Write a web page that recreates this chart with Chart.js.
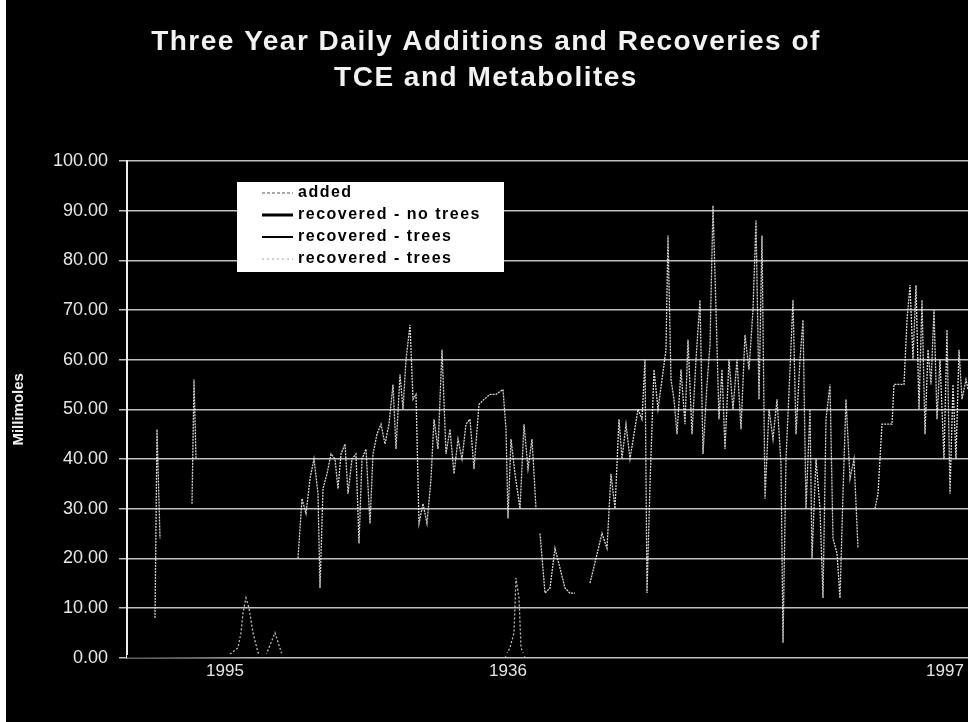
<!DOCTYPE html>
<html>
<head>
<meta charset="utf-8">
<title>Three Year Daily Additions and Recoveries of TCE and Metabolites</title>
<script src="https://cdn.jsdelivr.net/npm/chart.js@4.4.1/dist/chart.umd.min.js"></script>
<style>
  html, body { margin: 0; padding: 0; background: #000; }
  #wrap { width: 968px; height: 722px; }
</style>
</head>
<body>
<div id="wrap"><canvas id="tceChart" width="968" height="722"></canvas></div>
<script>
// tce chart - daily additions vs recoveries, 3 years

// ---- data ----
const seriesLabels = ['added', 'recovered - no trees', 'recovered - trees', 'recovered - trees'];

const yearTickDays = [98, 381, 818];
const yearTickLabels = ['1995', '1936', '1997'];

// added (null = break between pulses)
const addedDays = [
  28, 30, 33, 34,
  65, 67, 69, 70,
  171, 175, 179, 183, 187, 191, 193, 196, 200, 204, 208, 211, 214, 218, 221, 225, 229, 232, 235, 239,
  243, 246, 250, 254, 258, 262, 266, 269, 273, 276, 279, 283, 286, 289, 292, 296, 300, 304, 307, 311,
  315, 319, 323, 327, 331, 335, 339, 343, 347, 352, 357, 363, 369, 376, 379, 381, 384, 388, 393, 397,
  401, 405, 409, 410,
  413, 418, 423, 428, 433, 438, 443, 448, 449,
  463, 469, 475, 480, 484, 488, 492, 495, 499, 503, 507, 511, 515, 518, 520, 523, 527, 531, 535, 539,
  541, 544, 547, 550, 554, 558, 561, 565, 569, 573, 576, 580, 583, 586, 589, 592, 595, 598, 602, 606,
  610, 614, 618, 622, 626, 629, 632, 635, 638, 642, 646, 650, 654, 656, 659, 663, 666, 669, 673, 676,
  679, 683, 685, 689, 693, 696, 699, 703, 706, 710, 713, 716, 719, 723, 727, 731, 732,
  748, 751, 755, 765, 767, 777, 780, 783, 786, 789, 792, 795, 798, 801, 804, 807, 810, 813, 817, 820,
  823, 826, 829, 832, 835, 839, 841
];
const addedValues = [
  8, 46, 24, null,
  31, 56, 40, null,
  20, 32, 29, 36, 40, 33, 14, 34, 37, 41, 40, 34, 41, 43, 33, 40, 41, 23, 40, 42,
  27, 41, 45, 47, 43, 47, 55, 42, 57, 50, 60, 67, 52, 53, 27, 31, 27, 36, 48, 42,
  62, 41, 46, 37, 44, 40, 47, 48, 38, 51, 52, 53, 53, 54, 46, 28, 44, 37, 30, 47,
  38, 44, 30, null,
  25, 13, 14, 22, 18, 14, 13, 13, null,
  15, 20, 25, 22, 37, 30, 48, 40, 47, 40, 45, 50, 48, 60, 13, 35, 58, 50, 56, 62,
  85, 56, 52, 45, 58, 47, 64, 45, 60, 72, 41, 55, 63, 91, 70, 48, 58, 42, 60, 50,
  60, 46, 65, 58, 70, 88, 52, 85, 32, 50, 44, 52, 39, 3, 40, 58, 72, 45, 60, 68,
  30, 50, 20, 40, 30, 12, 48, 55, 24, 21, 12, 33, 52, 36, 40, 22, null,
  30, 33, 47, 47, 55, 55, 68, 75, 60, 75, 50, 72, 45, 62, 55, 70, 48, 60, 40, 66,
  33, 55, 40, 62, 52, 56, 54
];

// recovered - no trees (black, sits on the baseline)
const noTreesDays = [0, 120, 240, 380, 520, 660, 841];
const noTreesValues = [0.2, 0.4, 0.8, 0.6, 0.9, 0.7, 0.5];

// recovered - trees (black)
const treesDays = [0, 140, 300, 420, 560, 700, 841];
const treesValues = [0.1, 0.3, 0.5, 0.4, 0.6, 0.5, 0.3];

// recovered - trees (light dotted, the two small humps)
const treesLightDays = [0, 98, 105, 111, 114, 116, 119, 122, 126, 131, 138, 148, 156, 200, 378, 383, 387, 389, 392, 394, 398, 520, 841];
const treesLightValues = [0, 0, 1, 2, 5, 9, 12, 10, 5, 1, 0, 5, 0, 0, 0, 2, 5, 16, 12, 2, 0, 0, 0];

// ---- helpers ----
function toPoints(xs, ys) {
  return xs.map((x, i) => ({ x: x, y: ys[i] }));
}

// black page, white scan strip on the left edge, and the two-line title
const backdrop = {
  id: 'backdrop',
  beforeDraw(chart) {
    const ctx = chart.ctx;
    ctx.save();
    ctx.fillStyle = '#000';
    ctx.fillRect(0, 0, chart.width, chart.height);
    ctx.fillStyle = '#fff';
    ctx.fillRect(0, 0, 6, chart.height);
    ctx.restore();
  },
  afterDraw(chart) {
    const ctx = chart.ctx;
    ctx.save();
    ctx.fillStyle = '#f2f2f2';
    ctx.font = 'bold 28px Arial, "Liberation Sans", sans-serif';
    ctx.letterSpacing = '1.5px';
    ctx.textAlign = 'center';
    ctx.textBaseline = 'middle';
    ctx.fillText('Three Year Daily Additions and Recoveries of', 486, 42);
    ctx.fillText('TCE and Metabolites', 486, 78);
    ctx.restore();
  }
};

// white legend box inside the plot (top-left)
const boxLegend = {
  id: 'boxLegend',
  afterDraw(chart) {
    const ctx = chart.ctx;
    const samples = [
      { color: '#8a8a8a', width: 1.5, dash: [3, 2] },
      { color: '#000', width: 3, dash: [] },
      { color: '#000', width: 2, dash: [] },
      { color: '#c4c4c4', width: 1.5, dash: [2, 3] }
    ];
    ctx.save();
    ctx.fillStyle = '#fff';
    ctx.fillRect(237, 182, 267, 90);
    ctx.font = 'bold 16px Arial, "Liberation Sans", sans-serif';
    ctx.letterSpacing = '1.5px';
    ctx.textAlign = 'left';
    ctx.textBaseline = 'middle';
    seriesLabels.forEach((lbl, i) => {
      const y = 193 + i * 22;
      const s = samples[i];
      ctx.strokeStyle = s.color;
      ctx.lineWidth = s.width;
      ctx.setLineDash(s.dash);
      ctx.beginPath();
      ctx.moveTo(262, y);
      ctx.lineTo(293, y);
      ctx.stroke();
      ctx.fillStyle = '#000';
      ctx.fillText(lbl, 298, y);
    });
    ctx.restore();
  }
};

// ---- chart ----
function buildChart() {
  const ctx = document.getElementById('tceChart').getContext('2d');

  new Chart(ctx, {
    type: 'line',
    data: {
      datasets: [
        {
          label: seriesLabels[0],
          data: toPoints(addedDays, addedValues),
          borderColor: 'rgba(238, 238, 238, 0.9)',
          borderWidth: 1.3,
          borderDash: [2, 1],
          pointRadius: 0,
          spanGaps: false,
          tension: 0
        },
        {
          label: seriesLabels[1],
          data: toPoints(noTreesDays, noTreesValues),
          borderColor: '#000',
          borderWidth: 3,
          pointRadius: 0
        },
        {
          label: seriesLabels[2],
          data: toPoints(treesDays, treesValues),
          borderColor: '#000',
          borderWidth: 2,
          pointRadius: 0
        },
        {
          label: seriesLabels[3],
          data: toPoints(treesLightDays, treesLightValues),
          borderColor: 'rgba(210, 210, 210, 0.9)',
          borderWidth: 1.3,
          borderDash: [2, 2],
          pointRadius: 0
        }
      ]
    },
    options: {
      responsive: false,
      animation: false,
      devicePixelRatio: 1,
      layout: { padding: { top: 161, right: 0, bottom: 36, left: 0 } },
      scales: {
        x: {
          type: 'linear',
          min: 0,
          max: 841,
          grid: { display: false, drawTicks: false },
          border: { display: false },
          afterBuildTicks: scale => {
            scale.ticks = yearTickDays.map(v => ({ value: v }));
          },
          ticks: {
            color: '#e6e6e6',
            font: { family: 'Arial, "Liberation Sans", sans-serif', size: 17 },
            maxRotation: 0,
            autoSkip: false,
            padding: 4,
            callback: v => yearTickLabels[yearTickDays.indexOf(v)]
          }
        },
        y: {
          min: 0,
          max: 100,
          afterFit: scale => { scale.width = 127; },
          grid: {
            color: 'rgba(225, 225, 225, 0.85)',
            lineWidth: 1.5,
            drawTicks: true,
            tickLength: 8,
            tickColor: 'rgba(225, 225, 225, 0.85)'
          },
          border: { display: true, color: '#ededed', width: 2 },
          ticks: {
            stepSize: 10,
            color: '#e6e6e6',
            padding: 11,
            font: { family: 'Arial, "Liberation Sans", sans-serif', size: 18 },
            callback: v => Number(v).toFixed(2)
          },
          title: {
            display: true,
            text: 'Millimoles',
            color: '#f0f0f0',
            font: { family: 'Arial, "Liberation Sans", sans-serif', size: 15, weight: 'bold' },
            padding: { top: 10, bottom: 0 }
          }
        }
      },
      plugins: {
        legend: { display: false },
        title: { display: false },
        tooltip: { enabled: false }
      }
    },
    plugins: [backdrop, boxLegend]
  });
}

document.addEventListener('DOMContentLoaded', buildChart);
</script>
</body>
</html>
